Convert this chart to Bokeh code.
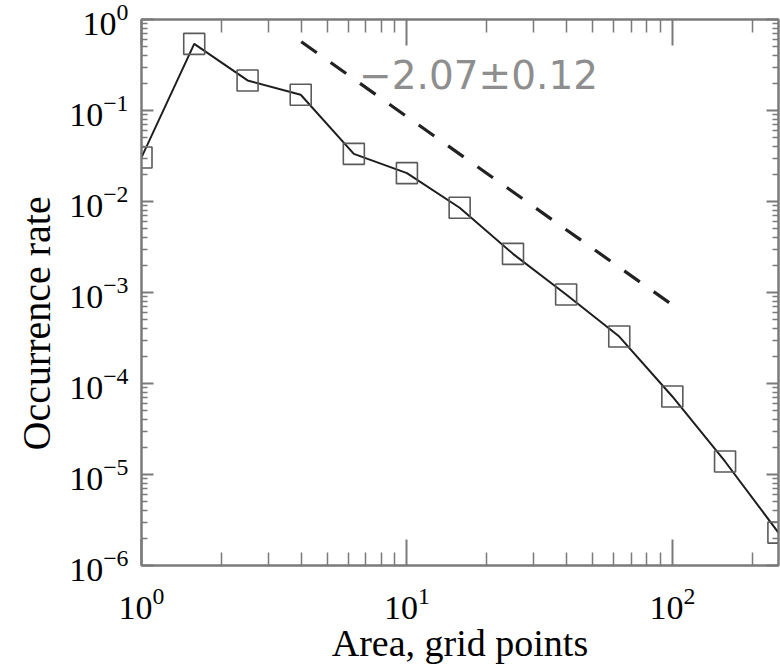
import numpy as np
from bokeh.plotting import figure
from bokeh.models import LogAxis, FixedTicker, Range1d, ColumnDataSource, Title
from bokeh.core.properties import value
from bokeh.embed import file_html
from bokeh.resources import INLINE

# ---- data ----
area = [1.0, 1.58, 2.51, 3.98, 6.31, 10.0, 15.8, 25.1, 39.8, 63.1, 100.0, 158.0, 251.0]
rate = [0.0305, 0.54, 0.214, 0.149, 0.0334, 0.0205, 0.00853, 0.00266,
        0.00095, 0.000328, 7.2e-5, 1.39e-5, 2.3e-6]

fit_area = [4.0, 100.0]
fit_rate = [0.57, 7.3e-4]
fit_label = ["\u22122.07\u00b10.12"]
fit_label_x = [6.6]
fit_label_y = [0.243]

x_decades = [1, 10, 100]
y_decades = [1e-6, 1e-5, 1e-4, 1e-3, 1e-2, 1e-1, 1]
x_minor = [m * d for d in [1, 10, 100] for m in range(2, 10)]
y_minor = [m * d for d in [1e-6, 1e-5, 1e-4, 1e-3, 1e-2, 1e-1] for m in range(2, 10)]

x_label = "Area, grid points"
y_label = "Occurrence rate"

AX_COL = "#7a7a7a"
SERIF = "Liberation Serif"

p = figure(width=780, height=667, x_axis_type="log", y_axis_type="log",
           x_range=Range1d(1, 10 ** 2.4), y_range=Range1d(1e-6, 1),
           output_backend="svg", toolbar_location=None,
           min_border_left=141, min_border_right=2, min_border_top=19,
           min_border_bottom=102)
p.xgrid.visible = False
p.ygrid.visible = False
p.outline_line_color = AX_COL
p.outline_line_width = 2
p.background_fill_color = "white"
p.border_fill_color = "white"


def style(ax, ticks, minor, maj_len, min_len, labels=True):
    ax.ticker = FixedTicker(ticks=ticks, minor_ticks=minor)
    ax.major_tick_in = maj_len
    ax.major_tick_out = 0
    ax.minor_tick_in = min_len
    ax.minor_tick_out = 0
    ax.axis_line_color = AX_COL
    ax.axis_line_width = 2
    ax.major_tick_line_color = AX_COL
    ax.major_tick_line_width = 2
    ax.minor_tick_line_color = AX_COL
    ax.minor_tick_line_width = 1.5
    if labels:
        ax.major_label_text_font = SERIF
        ax.major_label_text_font_size = "34px"
        ax.major_label_text_color = "black"
        ax.axis_label_text_font = SERIF
        ax.axis_label_text_font_size = "38px"
        ax.axis_label_text_font_style = "normal"
        ax.axis_label_text_color = "black"
    else:
        ax.major_label_text_font_size = "1px"
        ax.major_label_text_alpha = 0
        ax.major_label_standoff = 0


xb = p.xaxis[0]
style(xb, x_decades, x_minor, 26, 13)
xb.axis_label = x_label
xb.major_label_standoff = 22
xb.axis_label_standoff = 0

yl = p.yaxis[0]
style(yl, y_decades, y_minor, 12, 6)
yl.major_label_standoff = 13

xt = LogAxis()
style(xt, x_decades, x_minor, 26, 13, labels=False)
p.add_layout(xt, "above")
yr = LogAxis()
style(yr, y_decades, y_minor, 12, 6, labels=False)
p.add_layout(yr, "right")

# y-axis title in the left panel, shifted below centre as in the reference
p.add_layout(Title(text=y_label, align="left", offset=115, standoff=16,
                   text_font=SERIF, text_font_size="40px", text_font_style="normal",
                   text_color="black"), "left")

src = ColumnDataSource(dict(area=area, rate=rate))
p.line("area", "rate", source=src, line_color="#1e1e1e", line_width=2)
p.scatter("area", "rate", source=src, marker="square", size=21,
          fill_color=None, line_color="#5a5a5a", line_width=1.6)

p.line(fit_area, fit_rate, line_color="#222222", line_width=3.2, line_dash="19 17")

p.text(x=fit_label_x, y=fit_label_y, text=fit_label,
       text_font=value("DejaVu Sans"), text_font_size="39px",
       text_color="#8e8e8e", text_align="left", text_baseline="alphabetic")

open("out.html", "w").write(file_html(p, INLINE))
